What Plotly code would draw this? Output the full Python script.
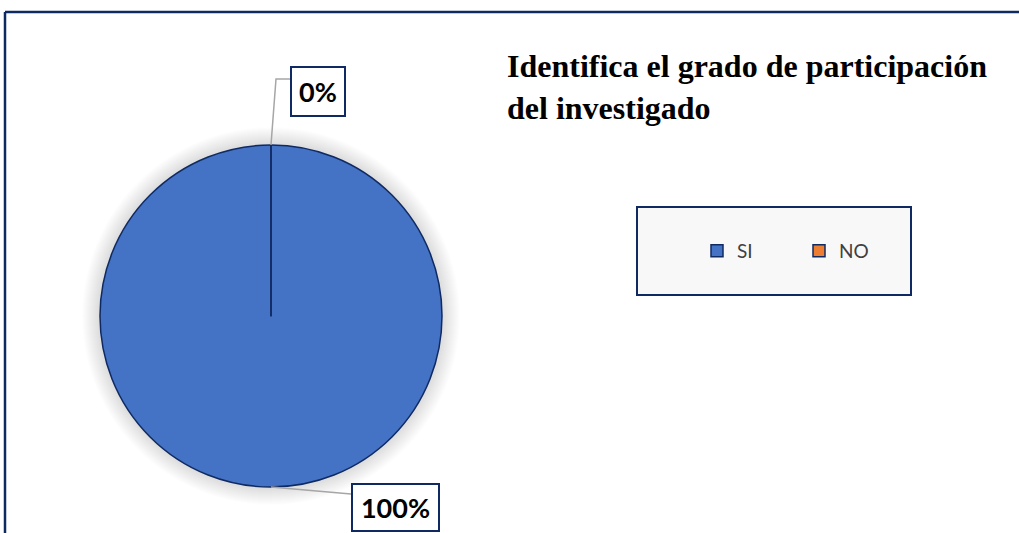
import plotly.graph_objects as go

# Data
labels = ["SI", "NO"]
values = [100, 0]
colors = ["#4472c4", "#ed7d31"]
title_text = "Identifica el grado de participación<br>del investigado"

W, H = 1019, 533
NAVY = "#0f2a62"


def px_x(x):
    return x / W


def px_y(y):
    return 1 - y / H


total = sum(values)
pcts = [f"{round(100 * v / total)}%" for v in values]

# pie geometry (pixels)
cx, cy, r = 271, 316, 171

fig = go.Figure()
fig.add_trace(
    go.Pie(
        labels=labels,
        values=values,
        sort=False,
        direction="clockwise",
        rotation=0,
        textinfo="none",
        hoverinfo="label+percent",
        marker=dict(colors=colors, line=dict(color=NAVY, width=1.5)),
        domain=dict(x=[px_x(cx - r), px_x(cx + r)], y=[px_y(cy + r), px_y(cy - r)]),
        showlegend=True,
    )
)

shapes = []
# soft shadow around the pie
for i in range(18, 0, -1):
    rr = r + i
    shapes.append(
        dict(
            type="circle", xref="paper", yref="paper", layer="below",
            x0=px_x(cx - rr), x1=px_x(cx + rr), y0=px_y(cy + rr), y1=px_y(cy - rr),
            fillcolor="rgba(0,0,0,0.008)", line=dict(width=0),
        )
    )
# seam of the full slice
shapes.append(
    dict(type="line", xref="paper", yref="paper", x0=px_x(cx), y0=px_y(cy),
         x1=px_x(cx), y1=px_y(cy - r), line=dict(color=NAVY, width=1.5))
)
# leader lines
shapes.append(
    dict(type="path", xref="paper", yref="paper",
         path=f"M {px_x(cx)},{px_y(cy - r)} L {px_x(276)},{px_y(79)} L {px_x(291)},{px_y(79)}",
         line=dict(color="#a6a6a6", width=1.5))
)
shapes.append(
    dict(type="path", xref="paper", yref="paper",
         path=f"M {px_x(cx)},{px_y(cy + r)} L {px_x(351)},{px_y(494)}",
         line=dict(color="#a6a6a6", width=1.5))
)
# legend box
shapes.append(
    dict(type="rect", xref="paper", yref="paper", layer="below",
         x0=px_x(637), x1=px_x(911), y0=px_y(295), y1=px_y(207),
         fillcolor="#f8f8f8", line=dict(color=NAVY, width=2))
)
# outer chart frame (top and left edges visible)
shapes.append(
    dict(type="line", xref="paper", yref="paper", x0=px_x(5), y0=px_y(12), x1=1.01, y1=px_y(12),
         line=dict(color=NAVY, width=2.5))
)
shapes.append(
    dict(type="line", xref="paper", yref="paper", x0=px_x(5), y0=px_y(12), x1=px_x(5), y1=-0.01,
         line=dict(color=NAVY, width=2.5))
)

annotations = [
    dict(
        text=f"<b>{pcts[1]}</b>", xref="paper", yref="paper",
        x=px_x(318), y=px_y(91), xanchor="center", yanchor="middle",
        showarrow=False, font=dict(family="Lato", size=27, color="#000000"),
        bgcolor="white", bordercolor=NAVY, borderwidth=2, width=50, height=45,
    ),
    dict(
        text=f"<b>{pcts[0]}</b>", xref="paper", yref="paper",
        x=px_x(395), y=px_y(507), xanchor="center", yanchor="middle",
        showarrow=False, font=dict(family="Lato", size=27, color="#000000"),
        bgcolor="white", bordercolor=NAVY, borderwidth=2, width=83, height=43,
    ),
    dict(
        text=f"<b>{title_text}</b>", xref="paper", yref="paper",
        x=px_x(505), y=px_y(46), xanchor="left", yanchor="top", align="left",
        showarrow=False, font=dict(family="Liberation Serif", size=32, color="#000000"),
    ),
]

fig.update_layout(
    width=W,
    height=H,
    margin=dict(l=0, r=0, t=0, b=0),
    paper_bgcolor="white",
    plot_bgcolor="white",
    shapes=shapes,
    annotations=annotations,
    legend=dict(
        orientation="h",
        x=px_x(697), y=px_y(251), xanchor="left", yanchor="middle",
        bgcolor="rgba(0,0,0,0)",
        font=dict(family="Lato", size=19, color="#404040"),
        entrywidth=57, entrywidthmode="pixels",
        itemclick=False,
    ),
)

fig.write_html(
    "out.html",
    config={"displayModeBar": False},
    post_script="document.body.style.margin='0';",
)
